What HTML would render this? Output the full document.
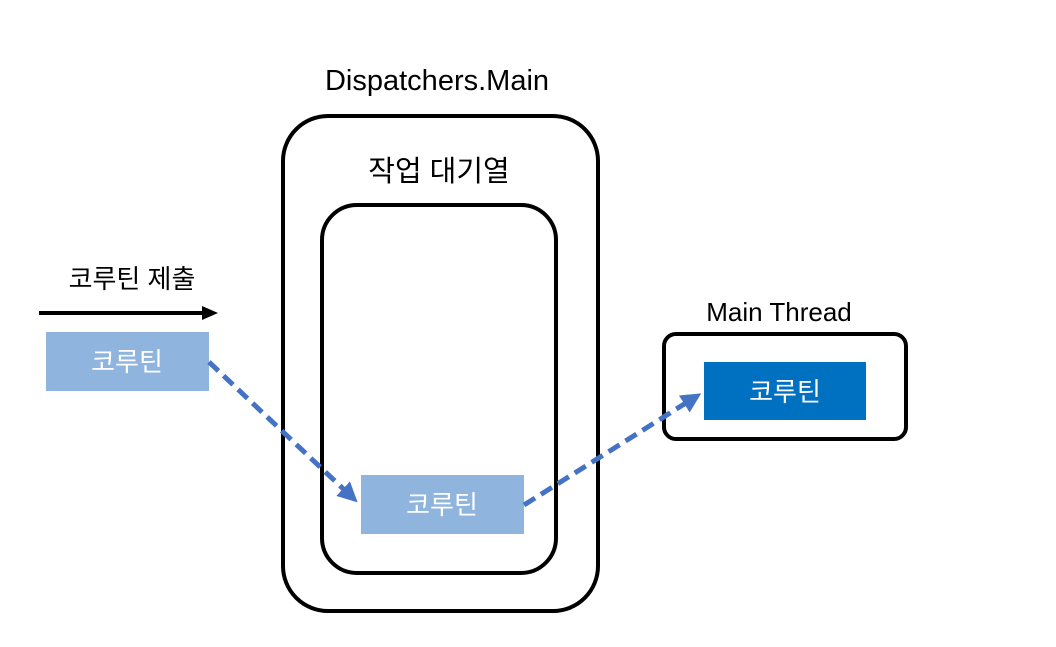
<!DOCTYPE html>
<html><head><meta charset="utf-8"><style>
body{margin:0;width:1056px;height:642px;background:#fff;overflow:hidden}
svg text{font-family:"Liberation Sans","Noto Sans CJK KR",sans-serif}
</style></head><body>
<svg width="1056" height="642" xmlns="http://www.w3.org/2000/svg">
<defs>
<marker id="b" markerWidth="4" markerHeight="4" refX="3" refY="2" orient="auto" markerUnits="strokeWidth"><path d="M0,0 L4,2 L0,4 z" fill="#4472c4"/></marker>
</defs>
<text x="437" y="90" font-size="29" text-anchor="middle">Dispatchers.Main</text>
<rect x="283" y="116" width="315" height="495" rx="45" fill="none" stroke="#000" stroke-width="4"/>
<text x="439" y="181" font-size="29" text-anchor="middle">작업 대기열</text>
<rect x="322" y="205" width="234" height="368" rx="35" fill="none" stroke="#000" stroke-width="4"/>
<text x="132" y="288" font-size="26" text-anchor="middle">코루틴 제출</text>
<line x1="39" y1="313" x2="204" y2="313" stroke="#000" stroke-width="4"/>
<path d="M202,306 L218,313 L202,320 z" fill="#000"/>
<rect x="46" y="332" width="163" height="59" fill="#8fb4de"/>
<text x="127" y="371" font-size="26" fill="#fff" text-anchor="middle">코루틴</text>
<rect x="361" y="475" width="163" height="59" fill="#8fb4de"/>
<text x="442" y="514" font-size="26" fill="#fff" text-anchor="middle">코루틴</text>
<text x="779" y="321" font-size="26" text-anchor="middle">Main Thread</text>
<rect x="664" y="334" width="242" height="105" rx="12" fill="none" stroke="#000" stroke-width="4"/>
<rect x="704" y="362" width="162" height="58" fill="#0070c0"/>
<text x="785" y="401" font-size="26" fill="#fff" text-anchor="middle">코루틴</text>
<line x1="209" y1="362" x2="354" y2="499" stroke="#4472c4" stroke-width="5" stroke-dasharray="13,7" marker-end="url(#b)"/>
<line x1="524" y1="505" x2="697" y2="396" stroke="#4472c4" stroke-width="5" stroke-dasharray="13,7" marker-end="url(#b)"/>
</svg>
</body></html>
